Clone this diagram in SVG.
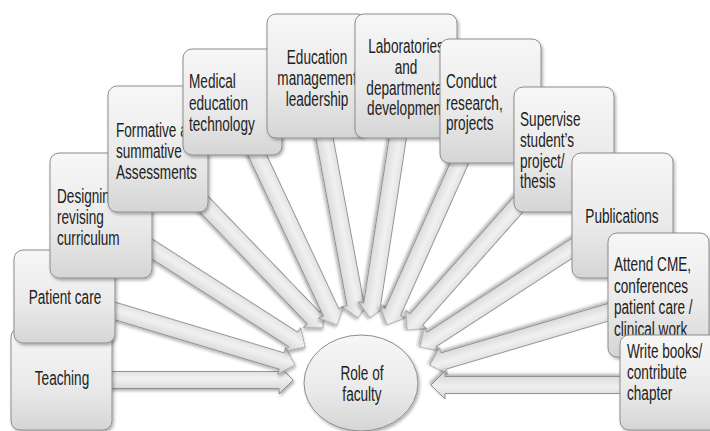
<svg xmlns="http://www.w3.org/2000/svg" width="710" height="431" viewBox="0 0 710 431">
<defs>
<linearGradient id="boxg" x1="0" y1="0" x2="0" y2="1">
<stop offset="0" stop-color="#f7f7f7"/>
<stop offset="0.6" stop-color="#e9e9e9"/>
<stop offset="1" stop-color="#d5d5d5"/>
</linearGradient>
<linearGradient id="arrg" x1="0" y1="0" x2="0" y2="1">
<stop offset="0" stop-color="#d6d6d6"/>
<stop offset="0.45" stop-color="#f1f1f1"/>
<stop offset="1" stop-color="#cfcfcf"/>
</linearGradient>
<filter id="sh" x="-20%" y="-20%" width="140%" height="140%">
<feDropShadow dx="1.5" dy="2" stdDeviation="1.5" flood-color="#000" flood-opacity="0.3"/>
</filter>
</defs>
<style>
.box{fill:url(#boxg);stroke:#8c8c8c;stroke-width:1;filter:url(#sh)}
.arr{fill:url(#arrg);stroke:#888888;stroke-width:0.9;filter:url(#sh)}
.t{font-family:"Liberation Sans",Arial,sans-serif;font-size:20px;fill:#222222}
.c{text-anchor:middle}
</style>
<rect width="710" height="431" fill="#ffffff"/>
<g id="connectors">
<path class="arr" transform="translate(105,380) rotate(0)" d="M0,-8.5 H174 V-14 L188,0 L174,14 V8.5 H0 Z"/>
<path class="arr" transform="translate(105,308) rotate(16.7)" d="M0,-8.5 H184.4 V-14 L198.4,0 L184.4,14 V8.5 H0 Z"/>
<path class="arr" transform="translate(145,244.5) rotate(32.64)" d="M0,-8.5 H176 V-14 L190,0 L176,14 V8.5 H0 Z"/>
<path class="arr" transform="translate(198,198) rotate(46.12)" d="M0,-8.5 H166.4 V-14 L180.4,0 L166.4,14 V8.5 H0 Z"/>
<path class="arr" transform="translate(254,148) rotate(64.88)" d="M0,-8.5 H181.5 V-14 L195.5,0 L181.5,14 V8.5 H0 Z"/>
<path class="arr" transform="translate(323,130) rotate(79.45)" d="M0,-8.5 H177.2 V-14 L191.2,0 L177.2,14 V8.5 H0 Z"/>
<path class="arr" transform="translate(399,130) rotate(98.77)" d="M0,-8.5 H176.2 V-14 L190.2,0 L176.2,14 V8.5 H0 Z"/>
<path class="arr" transform="translate(463,155) rotate(114.09)" d="M0,-8.5 H172.2 V-14 L186.2,0 L172.2,14 V8.5 H0 Z"/>
<path class="arr" transform="translate(524,198) rotate(131.55)" d="M0,-8.5 H162.4 V-14 L176.4,0 L162.4,14 V8.5 H0 Z"/>
<path class="arr" transform="translate(580,243) rotate(146.98)" d="M0,-8.5 H176.8 V-14 L190.8,0 L176.8,14 V8.5 H0 Z"/>
<path class="arr" transform="translate(616,310) rotate(163.53)" d="M0,-8.5 H180 V-14 L194,0 L180,14 V8.5 H0 Z"/>
<path class="arr" transform="translate(628,385) rotate(180)" d="M0,-8.5 H183 V-14 L197,0 L183,14 V8.5 H0 Z"/>
</g>
<g id="teaching">
<rect class="box" x="11" y="328" width="101" height="102" rx="9"/>
<text class="t c" transform="translate(62,0) scale(0.68,1)" x="0" y="385">Teaching</text>
</g>
<g id="patient-care">
<rect class="box" x="14" y="250" width="101" height="93" rx="9"/>
<text class="t c" transform="translate(65,0) scale(0.68,1)" x="0" y="304">Patient care</text>
</g>
<g id="designing">
<rect class="box" x="50" y="153" width="102" height="125" rx="9"/>
<text class="t" transform="translate(57,0) scale(0.68,1)"><tspan x="0" y="203">Designing and</tspan><tspan x="0" y="224">revising</tspan><tspan x="0" y="245">curriculum</tspan></text>
</g>
<g id="formative">
<rect class="box" x="108" y="86" width="100" height="126" rx="9"/>
<text class="t" transform="translate(116,0) scale(0.68,1)"><tspan x="0" y="137">Formative a</tspan><tspan x="0" y="158">summative</tspan><tspan x="0" y="179">Assessments</tspan></text>
</g>
<g id="medical">
<rect class="box" x="183" y="49" width="99" height="106" rx="9"/>
<text class="t" transform="translate(189,0) scale(0.68,1)"><tspan x="0" y="88">Medical</tspan><tspan x="0" y="110">education</tspan><tspan x="0" y="131">technology</tspan></text>
</g>
<g id="education">
<rect class="box" x="267" y="14" width="100" height="124" rx="9"/>
<text class="t c" transform="translate(317,0) scale(0.68,1)"><tspan x="0" y="64">Education</tspan><tspan x="0" y="85">management</tspan><tspan x="0" y="106">leadership</tspan></text>
</g>
<g id="laboratories">
<rect class="box" x="355" y="14" width="102" height="124" rx="9"/>
<text class="t c" transform="translate(406,0) scale(0.68,1)"><tspan x="0" y="53">Laboratories</tspan><tspan x="0" y="74">and</tspan><tspan x="0" y="95">departmental</tspan><tspan x="0" y="115">development</tspan></text>
</g>
<g id="conduct">
<rect class="box" x="440" y="39" width="101" height="124" rx="9"/>
<text class="t" transform="translate(446,0) scale(0.68,1)"><tspan x="0" y="88">Conduct</tspan><tspan x="0" y="110">research,</tspan><tspan x="0" y="130">projects</tspan></text>
</g>
<g id="supervise">
<rect class="box" x="514" y="87" width="100" height="125" rx="9"/>
<text class="t" transform="translate(520,0) scale(0.68,1)"><tspan x="0" y="126">Supervise</tspan><tspan x="0" y="147">student’s</tspan><tspan x="0" y="168">project/</tspan><tspan x="0" y="188">thesis</tspan></text>
</g>
<g id="publications">
<rect class="box" x="572" y="153" width="101" height="125" rx="9"/>
<text class="t c" transform="translate(622,0) scale(0.68,1)" x="0" y="223">Publications</text>
</g>
<g id="attend-cme">
<rect class="box" x="608" y="233" width="101" height="124" rx="9"/>
<text class="t" transform="translate(614,0) scale(0.68,1)"><tspan x="0" y="271">Attend CME,</tspan><tspan x="0" y="293">conferences</tspan><tspan x="0" y="314">patient care /</tspan><tspan x="0" y="336">clinical work</tspan></text>
</g>
<g id="write-books">
<rect class="box" x="620" y="335" width="100" height="95" rx="9"/>
<text class="t" transform="translate(627,0) scale(0.68,1)"><tspan x="0" y="358">Write books/</tspan><tspan x="0" y="379">contribute</tspan><tspan x="0" y="400">chapter</tspan></text>
</g>
<g id="role-of-faculty">
<ellipse class="box" cx="361" cy="383" rx="57" ry="48"/>
<text class="t c" transform="translate(362,0) scale(0.68,1)"><tspan x="0" y="380">Role of</tspan><tspan x="0" y="401">faculty</tspan></text>
</g>
</svg>
